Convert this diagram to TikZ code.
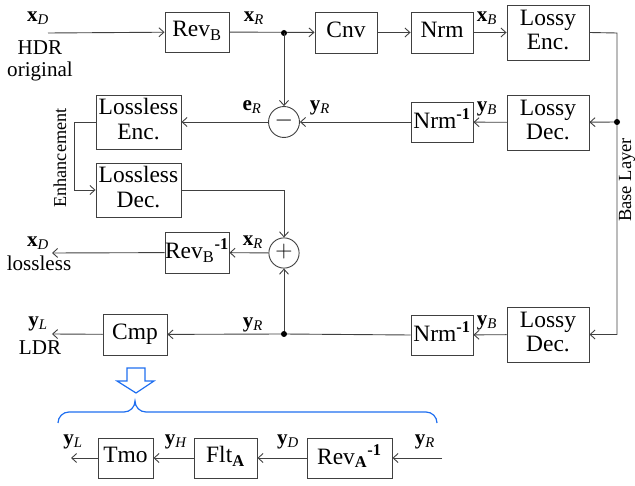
\documentclass[tikz,border=0pt]{standalone}
\usepackage{fontspec}
\usepackage{graphicx}
\setmainfont{Liberation Serif}
\usetikzlibrary{arrows.meta}

\definecolor{bracebl}{RGB}{30,110,240}
\newcommand{\vx}[1]{\textbf{x}\textsubscript{\textit{#1}}}
\newcommand{\vy}[1]{\textbf{y}\textsubscript{\textit{#1}}}
% Text in 17pt setzen und vergroessern
\newcommand{\btxt}[1]{\scalebox{1.38}{\begin{tabular}{@{}c@{}}#1\end{tabular}}}
\newcommand{\ltxt}[1]{\scalebox{1.24}{\begin{tabular}{@{}c@{}}#1\end{tabular}}}

\begin{document}
\begin{tikzpicture}[x=1pt, y=-1pt, line width=0.9pt, draw=black!75,
    >={Straight Barb[length=5pt,width=9pt]},
    font={\fontsize{17}{19}\selectfont},
    blk/.style={draw, inner sep=0pt, align=center},
    sumop/.style={draw, circle, minimum size=28pt, inner sep=0pt},
    lbl/.style={inner sep=0pt, align=center}]
    \useasboundingbox (0,0) rectangle (635,486);
    \renewcommand{\arraystretch}{0.95}

    % obere Reihe
    \node[blk, minimum width=64, minimum height=40] (revb) at (197,32) {\btxt{Rev\textsubscript{B}}};
    \node[blk, minimum width=62, minimum height=41] (cnv) at (346,32.5) {\btxt{Cnv}};
    \node[blk, minimum width=62, minimum height=41] (nrm) at (442,32.5) {\btxt{Nrm}};
    \node[blk, minimum width=82, minimum height=55] (lenc) at (548,32.5) {\btxt{Lossy\\Enc.}};
    \coordinate (in) at (48,33);
    \coordinate (j1) at (284,33);
    \draw[->] (in) -- (revb);
    \draw[->] (revb) -- (cnv);
    \draw[->] (cnv) -- (nrm);
    \draw[->] (nrm) -- (lenc);
    \fill (j1) circle (3pt);

    % Basisschicht
    \node[blk, minimum width=82, minimum height=55] (ldec1) at (548,122.5) {\btxt{Lossy\\Dec.}};
    \node[blk, minimum width=82, minimum height=55] (ldec2) at (548,334.5) {\btxt{Lossy\\Dec.}};
    \coordinate (j2) at (617,122);
    \draw[->] (lenc.east) -- (617,33) |- (ldec2.east);
    \draw[->] (j2) -- (ldec1);
    \fill (j2) circle (3pt);
    \node[lbl, rotate=90] (base) at (627,180) {\scalebox{1.09}{Base Layer}};

    % Differenz
    \node[blk, minimum width=62, minimum height=40] (nrmi1) at (442,122) {\btxt{Nrm\textsuperscript{\textbf{-1}}}};
    \node[sumop] (minus) at (284,122) {\btxt{$-$}};
    \node[blk, minimum width=85, minimum height=54] (llenc) at (138.5,122) {\btxt{Lossless\\Enc.}};
    \draw[->] (ldec1) -- (nrmi1);
    \draw[->] (nrmi1) -- (minus);
    \draw[->] (j1) -- (minus);
    \draw[->] (minus) -- (llenc);

    % Erweiterungsschicht
    \node[blk, minimum width=85, minimum height=54] (lldec) at (138.5,190) {\btxt{Lossless\\Dec.}};
    \draw[->] (llenc.west) -- ++(-21,0) |- (lldec.west);
    \node[lbl, rotate=90] (enh) at (60,158) {\scalebox{1.07}{Enhancement}};

    % Summe
    \node[sumop] (plus) at (284,253) {\btxt{$+$}};
    \node[blk, minimum width=64, minimum height=41] (revbi) at (197,252.5) {\btxt{Rev\textsubscript{B}\textsuperscript{\textbf{-1}}}};
    \coordinate (outd) at (52,253);
    \draw[->] (lldec.east) -| (plus);
    \draw[->] (plus) -- (revbi);
    \draw[->] (revbi) -- (outd);

    % LDR Zweig
    \node[blk, minimum width=62, minimum height=40] (nrmi2) at (442,335) {\btxt{Nrm\textsuperscript{\textbf{-1}}}};
    \node[blk, minimum width=64, minimum height=41] (cmp) at (135,334.5) {\btxt{Cmp}};
    \coordinate (j3) at (284,334);
    \coordinate (outl) at (52,334);
    \draw[->] (ldec2) -- (nrmi2);
    \draw (nrmi2.west) -- (j3);
    \draw[->] (j3) -- (cmp);
    \draw[->] (j3) -- (plus);
    \draw[->] (cmp) -- (outl);
    \fill (j3) circle (3pt);

    % Beschriftungen
    \node[lbl] (lxd) at (38,17) {\ltxt{\vx{D}}};
    \node[lbl] (lhdr) at (40,61) {\ltxt{HDR\\[-1pt]original}};
    \node[lbl] (lxr1) at (254,17) {\ltxt{\vx{R}}};
    \node[lbl] (lxb) at (487,17) {\ltxt{\vx{B}}};
    \node[lbl] (lyb1) at (487,107) {\ltxt{\vy{B}}};
    \node[lbl] (lyr1) at (320,106) {\ltxt{\vy{R}}};
    \node[lbl] (ler) at (252,106) {\ltxt{\textbf{e}\textsubscript{\textit{R}}}};
    \node[lbl] (lxr2) at (253,241) {\ltxt{\vx{R}}};
    \node[lbl] (lxd2) at (38,242) {\ltxt{\vx{D}}};
    \node[lbl] (lloss) at (39,266) {\ltxt{lossless}};
    \node[lbl] (lyl) at (38,322) {\ltxt{\vy{L}}};
    \node[lbl] (lldr) at (40,350) {\ltxt{LDR}};
    \node[lbl] (lyr2) at (253,323) {\ltxt{\vy{R}}};
    \node[lbl] (lyb2) at (487,321) {\ltxt{\vy{B}}};

    % blauer Pfeil und Klammer
    \draw[bracebl, line width=1.2pt, line join=miter]
        (127,368) -- (145,368) -- (145,381) -- (154,381) -- (136,393)
        -- (117,381) -- (127,381) -- cycle;
    \draw[bracebl, line width=1.2pt]
        (58,423) arc (180:270:11) -- (124,412) arc (90:0:11) arc (180:90:11)
        -- (426,412) arc (270:360:11);

    % Tone-Mapping Kette
    \node[blk, minimum width=55, minimum height=40] (tmo) at (125.5,458) {\btxt{Tmo}};
    \node[blk, minimum width=63, minimum height=40] (flt) at (225.5,458) {\btxt{Flt\textsubscript{\textbf{A}}}};
    \node[blk, minimum width=85, minimum height=40] (revai) at (349.5,458) {\btxt{Rev\textsubscript{\textbf{A}}\textsuperscript{\textbf{-1}}}};
    \coordinate (tin) at (442,458);
    \coordinate (tout) at (71,458);
    \draw[->] (tin) -- (revai);
    \draw[->] (revai) -- (flt);
    \draw[->] (flt) -- (tmo);
    \draw[->] (tmo) -- (tout);
    \node[lbl] (byl) at (73,440) {\ltxt{\vy{L}}};
    \node[lbl] (byh) at (176,440) {\ltxt{\vy{H}}};
    \node[lbl] (byd) at (288,440) {\ltxt{\vy{D}}};
    \node[lbl] (byr) at (425,440) {\ltxt{\vy{R}}};
\end{tikzpicture}
\end{document}
